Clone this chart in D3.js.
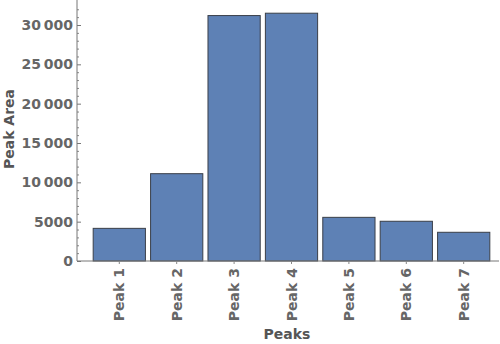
<!DOCTYPE html>
<html>
<head>
  <meta charset="UTF-8">
  <script src="https://d3js.org/d3.v7.min.js"></script>
  <style>
    body { margin: 0; background: #fff; }
    text { font-family: "DejaVu Sans", sans-serif; font-weight: bold; fill: #666; }
  </style>
</head>
<body>
  <svg width="500" height="344"></svg>
  <script>
    const peaks = ["Peak 1", "Peak 2", "Peak 3", "Peak 4", "Peak 5", "Peak 6", "Peak 7"];
    const areas = [4150, 11100, 31200, 31500, 5550, 5050, 3650];
    const yTicks = [0, 5000, 10000, 15000, 20000, 25000, 30000];

    const svg = d3.select("svg");
    const x0 = 77, xEnd = 499, y0 = 261;

    const x = d3.scaleBand()
      .domain(peaks)
      .range([90.6, 492.4])
      .paddingInner(0.09)
      .paddingOuter(0.045);

    const y = d3.scaleLinear()
      .domain([0, 30000])
      .range([y0, 25]);

    const fmt = v => v >= 10000 ? d3.format(",")(v).replace(",", "\u2009") : String(v);

    // Balken
    svg.selectAll(".bar")
      .data(areas)
      .join("rect")
      .attr("x", (d, i) => x(peaks[i]))
      .attr("y", d => y(d))
      .attr("width", x.bandwidth())
      .attr("height", d => y0 - y(d))
      .attr("fill", "#5e81b5")
      .attr("stroke", "#3a3f48")
      .attr("stroke-width", 1);

    // y-Achse
    const yAxis = svg.append("g")
      .attr("transform", `translate(${x0},0)`)
      .call(d3.axisRight(y).tickValues(yTicks).tickSize(4).tickFormat(""));
    yAxis.select(".domain").remove();
    yAxis.selectAll("line").attr("stroke", "#777");

    const minor = d3.range(0, 33000, 1000).filter(v => v % 5000 !== 0);
    svg.append("g")
      .attr("transform", `translate(${x0},0)`)
      .call(d3.axisRight(y).tickValues(minor).tickSize(2).tickFormat(""))
      .call(g => g.select(".domain").remove())
      .selectAll("line").attr("stroke", "#888");

    svg.append("line")
      .attr("x1", x0).attr("x2", x0)
      .attr("y1", 0).attr("y2", y0)
      .attr("stroke", "#777");

    svg.append("g").selectAll("text")
      .data(yTicks)
      .join("text")
      .attr("x", x0 - 4)
      .attr("y", d => y(d))
      .attr("dy", "0.36em")
      .attr("text-anchor", "end")
      .attr("font-size", 14)
      .text(fmt);

    // x-Achse
    svg.append("line")
      .attr("x1", x0).attr("x2", xEnd)
      .attr("y1", y0).attr("y2", y0)
      .attr("stroke", "#777");

    svg.append("g").selectAll("line")
      .data(peaks)
      .join("line")
      .attr("x1", d => x(d) + x.bandwidth() / 2)
      .attr("x2", d => x(d) + x.bandwidth() / 2)
      .attr("y1", y0).attr("y2", y0 + 3)
      .attr("stroke", "#888");

    svg.append("g").selectAll("text")
      .data(peaks)
      .join("text")
      .attr("transform", d => `translate(${x(d) + x.bandwidth() / 2},${y0 + 7}) rotate(-90)`)
      .attr("dy", "0.36em")
      .attr("text-anchor", "end")
      .attr("font-size", 14)
      .text(d => d);

    // Achsentitel
    svg.append("text")
      .attr("x", 287).attr("y", 339)
      .attr("text-anchor", "middle")
      .attr("font-size", 14)
      .style("fill", "#555")
      .text("Peaks");

    svg.append("text")
      .attr("transform", "translate(14,129) rotate(-90)")
      .attr("text-anchor", "middle")
      .attr("font-size", 14)
      .style("fill", "#555")
      .text("Peak Area");
  </script>
</body>
</html>
